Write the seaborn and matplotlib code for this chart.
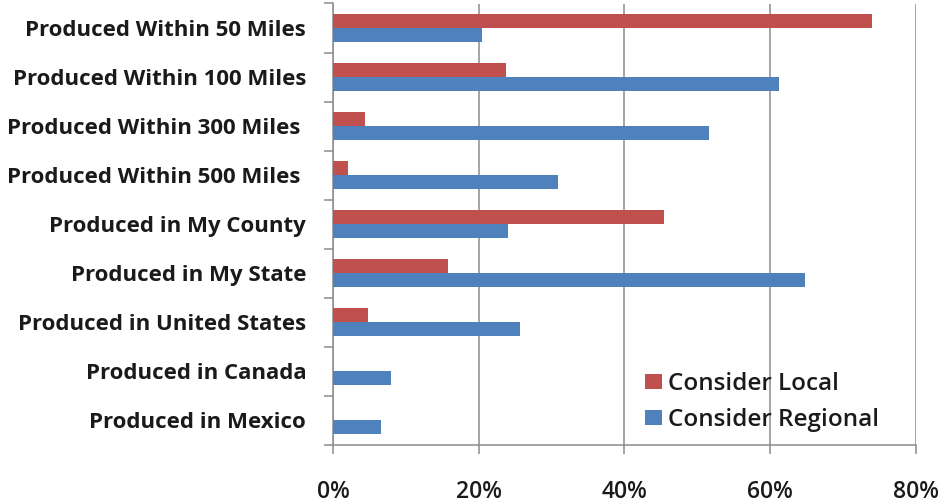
import matplotlib
matplotlib.use("Agg")
import matplotlib.pyplot as plt
import seaborn as sns
import pandas as pd
import numpy as np
from matplotlib.ticker import FixedLocator, PercentFormatter

categories = [
    "Produced Within 50 Miles",
    "Produced Within 100 Miles",
    "Produced Within 300 Miles ",
    "Produced Within 500 Miles ",
    "Produced in My County",
    "Produced in My State",
    "Produced in United States",
    "Produced in Canada",
    "Produced in Mexico",
]
consider_local = [74.0, 23.7, 4.4, 2.0, 45.5, 15.8, 4.8, 0.0, 0.0]
consider_regional = [20.4, 61.2, 51.6, 30.9, 24.0, 64.8, 25.7, 7.9, 6.6]
series_names = ["Consider Local", "Consider Regional"]
x_ticks = [0, 20, 40, 60, 80]

df = pd.DataFrame({
    "category": categories * 2,
    "series": [series_names[0]] * len(categories) + [series_names[1]] * len(categories),
    "value": consider_local + consider_regional,
})

sns.set_theme(style="white")
plt.rcParams["font.family"] = ["Open Sans", "DejaVu Sans"]

fig = plt.figure(figsize=(9.42, 5.04), dpi=100)
ax = fig.add_axes([333.3 / 942, 1 - 445 / 504, (915.5 - 333.3) / 942, (445 - 3.5) / 504])

sns.barplot(data=df, y="category", x="value", hue="series", orient="h",
            hue_order=series_names, order=categories,
            palette=["#C0504D", "#4F81BD"], saturation=1, width=0.57,
            linewidth=0, ax=ax, zorder=3)

ax.set_xlim(0, 80)
ax.set_ylim(len(categories) - 0.5, -0.5)
ax.set_xlabel("")
ax.set_ylabel("")

grid_c = "#8C8C8C"
ax.xaxis.set_major_locator(FixedLocator(x_ticks))
ax.xaxis.set_major_formatter(PercentFormatter(decimals=0))
ax.grid(axis="x", color=grid_c, linewidth=1.1, zorder=0)
ax.grid(axis="y", visible=False)
ax.set_axisbelow(True)

for s in ["top", "right"]:
    ax.spines[s].set_visible(False)
for s in ["left", "bottom"]:
    ax.spines[s].set_color(grid_c)
    ax.spines[s].set_linewidth(1.1)

ax.set_yticks(np.arange(len(categories) + 1) - 0.5, minor=True)
ax.tick_params(axis="y", which="minor", length=6.5, width=1.1, color=grid_c, left=True)
ax.tick_params(axis="y", which="major", length=0, pad=19.5, labelsize=16, labelcolor="#1a1a1a")
ax.tick_params(axis="x", which="major", length=6.5, width=1.1, color=grid_c, bottom=True,
               pad=18.5, labelsize=16.5, labelcolor="#1a1a1a")
for lab in ax.get_yticklabels():
    lab.set_fontweight("bold")
for lab in ax.get_xticklabels():
    lab.set_fontweight("semibold")

ax.legend(title=None, frameon=False, prop={"size": 17.5, "weight": "semibold"},
          loc="upper left", bbox_to_anchor=(645 / 942, 1 - 372 / 504),
          bbox_transform=fig.transFigure, borderaxespad=0, borderpad=0,
          handlelength=0.68, handleheight=0.55, handletextpad=0.27, labelspacing=0.5,
          labelcolor="#1a1a1a")

fig.savefig("out.png", dpi=100)
